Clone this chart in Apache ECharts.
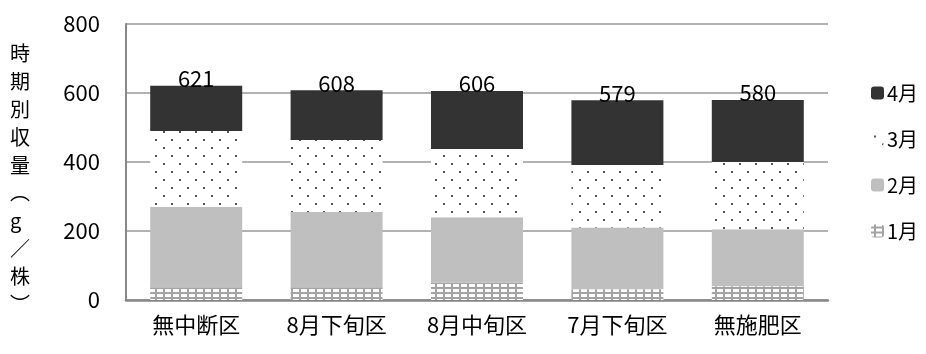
<!DOCTYPE html>
<html>
<head>
<meta charset="utf-8">
<script src="https://cdn.jsdelivr.net/npm/echarts@6/dist/echarts.min.js"></script>
<style>
  html, body { margin: 0; padding: 0; background: #fff; }
  #chart { width: 926px; height: 354px; }
</style>
</head>
<body>
<div id="chart"></div>
<script>
// Harvest by period per plant (g), stacked by month
const categories = ['無中断区', '8月下旬区', '8月中旬区', '7月下旬区', '無施肥区'];
const jan = [37, 37, 50, 31, 40];
const feb = [233, 218, 190, 179, 165];
const mar = [220, 209, 198, 181, 195];
const apr = [131, 144, 168, 188, 180];
const totals = [621, 608, 606, 579, 580];
const yTicks = [0, 200, 400, 600, 800];
const yName = ['時', '期', '別', '収', '量', '︵', 'g', '／', '株', '︶'];

const FONT = '"Noto Sans CJK JP", "Noto Sans", sans-serif';

// dotted fill for March
function dotPattern() {
  const c = document.createElement('canvas');
  c.width = 16; c.height = 16;
  const g = c.getContext('2d');
  g.fillStyle = '#fff';
  g.fillRect(0, 0, 16, 16);
  g.fillStyle = '#555';
  g.fillRect(3, 3, 2, 2);
  g.fillRect(11, 11, 2, 2);
  return c;
}
// cross-hatch fill for January
function hatchPattern() {
  const c = document.createElement('canvas');
  c.width = 8; c.height = 5;
  const g = c.getContext('2d');
  g.fillStyle = '#fff';
  g.fillRect(0, 0, 8, 5);
  g.fillStyle = '#a3a3a3';
  g.fillRect(3, 0, 2, 5);
  g.fillRect(0, 2, 8, 2);
  return c;
}

const chart = echarts.init(document.getElementById('chart'));
const barW = 92;

chart.setOption({
  animation: false,
  grid: { left: 126, right: 98, top: 24, bottom: 54 },
  legend: {
    orient: 'vertical',
    left: 866,
    top: 78,
    itemWidth: 13,
    itemHeight: 13,
    itemGap: 26,
    textStyle: { fontFamily: FONT, fontSize: 20, color: '#000', padding: [0, 0, 0, -2] },
    data: ['4月', '3月', '2月', '1月']
  },
  xAxis: {
    type: 'category',
    data: categories,
    axisLine: { lineStyle: { color: '#888', width: 2.5 } },
    axisTick: { show: false },
    axisLabel: { fontFamily: FONT, fontSize: 22, color: '#000', margin: 14 }
  },
  yAxis: {
    type: 'value',
    min: yTicks[0],
    max: yTicks[yTicks.length - 1],
    interval: 200,
    axisLine: { show: true, lineStyle: { color: '#888', width: 2 } },
    axisTick: { show: false },
    splitLine: { lineStyle: { color: '#999', width: 1.5 } },
    axisLabel: { fontFamily: FONT, fontSize: 22, color: '#000', margin: 26 }
  },
  graphic: [{
    type: 'text',
    left: 10,
    top: 40,
    style: {
      text: yName.join('\n'),
      font: '20px ' + FONT,
      lineHeight: 27.8,
      fill: '#000',
      align: 'center'
    }
  }],
  series: [
    { name: '1月', type: 'bar', stack: 'all', barWidth: barW, data: jan,
      itemStyle: { color: { image: hatchPattern(), repeat: 'repeat' } } },
    { name: '2月', type: 'bar', stack: 'all', barWidth: barW, data: feb,
      itemStyle: { color: '#bfbfbf' } },
    { name: '3月', type: 'bar', stack: 'all', barWidth: barW, data: mar,
      itemStyle: { color: { image: dotPattern(), repeat: 'repeat' } } },
    { name: '4月', type: 'bar', stack: 'all', barWidth: barW, data: apr,
      itemStyle: { color: '#333333' },
      label: {
        show: true, position: 'top', distance: -4,
        fontFamily: FONT, fontSize: 22, color: '#000',
        formatter: p => String(totals[p.dataIndex])
      } }
  ]
});
</script>
</body>
</html>
